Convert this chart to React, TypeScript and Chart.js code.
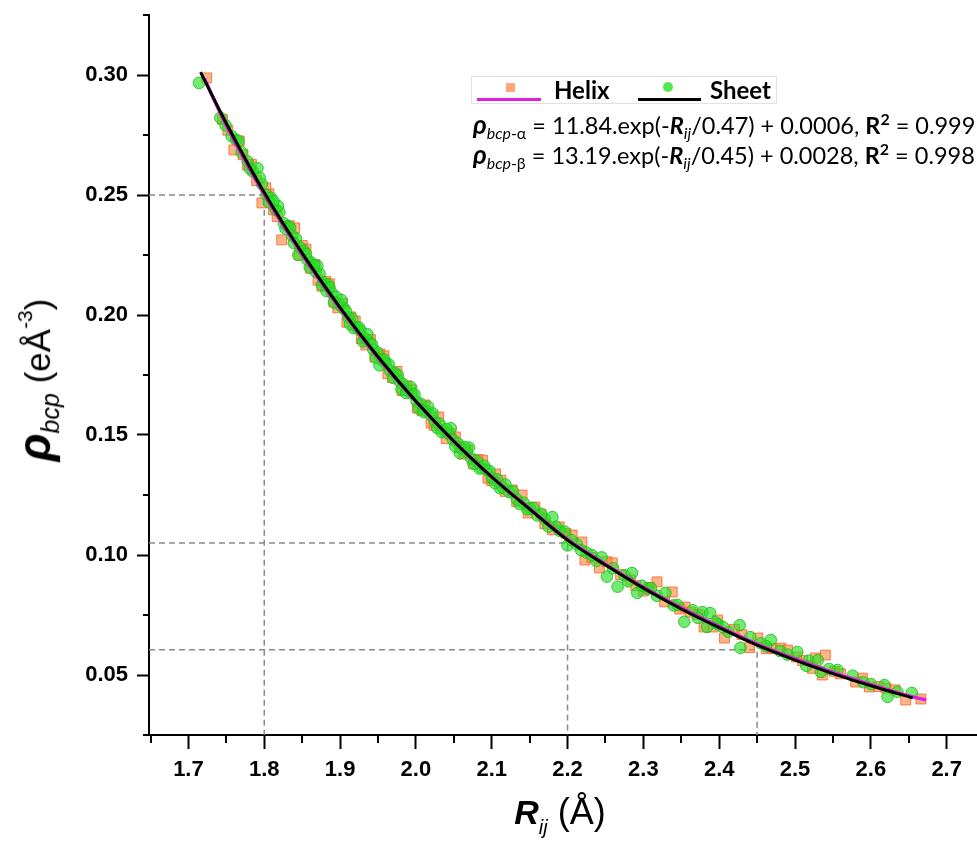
import React, { useEffect, useRef } from 'react';
import { Chart, registerables } from 'chart.js';

Chart.register(...registerables);

// ---- axis ticks ----
const xMajor = [1.7, 1.8, 1.9, 2.0, 2.1, 2.2, 2.3, 2.4, 2.5, 2.6, 2.7];
const xMinor = [1.65, 1.75, 1.85, 1.95, 2.05, 2.15, 2.25, 2.35, 2.45, 2.55, 2.65];
const yMajor = [0.05, 0.1, 0.15, 0.2, 0.25, 0.3];
const yMinor = [0.025, 0.075, 0.125, 0.175, 0.225, 0.275, 0.325];
const xMin = 1.648;
const xMax = 2.74;
const yMin = 0.025;
const yMax = 0.325;

// ---- fitted curves ----
const sheetFitR = [1.716, 1.75, 1.8, 1.85, 1.9, 1.95, 2.0, 2.05, 2.1, 2.15, 2.2, 2.25, 2.3, 2.35, 2.4, 2.45, 2.5, 2.55, 2.6, 2.655];
const sheetFitRho = [0.3012, 0.2799, 0.251, 0.2258, 0.2031, 0.1826, 0.1641, 0.1474, 0.1325, 0.1191, 0.1062, 0.0958, 0.0862, 0.0775, 0.0697, 0.0624, 0.0562, 0.0506, 0.0455, 0.0405];
const helixFitR = [1.721, 1.75, 1.8, 1.85, 1.9, 1.95, 2.0, 2.05, 2.1, 2.15, 2.2, 2.25, 2.3, 2.35, 2.4, 2.45, 2.5, 2.55, 2.6, 2.65, 2.673];
const helixFitRho = [0.2985, 0.279, 0.2503, 0.2252, 0.2027, 0.1823, 0.164, 0.1474, 0.1326, 0.1193, 0.1065, 0.0962, 0.0866, 0.078, 0.0702, 0.0629, 0.0567, 0.0511, 0.046, 0.0413, 0.0396];

// ---- Sheet points (green circles) ----
const sheetR = [
  1.714, 1.742, 1.749, 1.757, 1.763, 1.77, 1.778, 1.785, 1.791, 1.797, 1.803, 1.809, 1.815, 1.82, 1.826, 1.831, 1.837, 1.842, 1.847, 1.852,
  1.857, 1.862, 1.868, 1.873, 1.878, 1.884, 1.889, 1.895, 1.9, 1.905, 1.911, 1.916, 1.922, 1.927, 1.933, 1.938, 1.944, 1.949, 1.955, 1.96,
  1.966, 1.972, 1.978, 1.983, 1.989, 1.995, 2.001, 2.007, 2.013, 2.019, 2.025, 2.031, 2.037, 2.043, 2.049, 2.055, 2.061, 2.067, 2.073, 2.08,
  2.086, 2.093, 2.1, 2.107, 2.114, 2.123, 2.133, 2.142, 2.15, 2.16, 2.17, 2.18, 2.19, 2.2, 2.212, 2.225, 2.238, 2.252, 2.266, 2.275,
  2.285, 2.292, 2.305, 2.318, 2.329, 2.34, 2.354, 2.365, 2.378, 2.384, 2.388, 2.398, 2.412, 2.427, 2.428, 2.441, 2.455, 2.468, 2.48, 2.503,
  2.518, 2.53, 2.534, 2.556, 2.576, 2.6, 2.618, 2.622, 2.654,
  1.818, 1.845, 1.87, 1.882, 1.902, 1.918, 1.936, 1.952, 1.964, 1.981, 1.993, 2.004, 2.016, 2.028, 2.046, 2.058, 2.07, 2.084, 2.097, 2.111,
  2.128, 2.147, 2.165, 2.185, 2.205, 2.232, 2.26, 2.298, 2.345, 2.372, 2.405, 2.462, 2.49, 2.545, 2.59, 2.635,
  1.766, 1.781, 1.794, 1.806, 1.812, 1.828, 1.834, 1.839, 1.855, 1.86, 1.866, 1.876, 1.886, 1.892, 1.908, 1.913, 1.925, 1.93, 1.942, 1.947,
  1.958, 1.97, 1.976, 1.987, 1.998, 2.01, 2.022, 2.034, 2.04, 2.052, 2.064, 2.076, 2.09, 2.104, 2.118, 2.137, 2.155, 2.175, 2.196, 2.218,
  2.245, 2.28, 2.31, 2.395, 2.515,
];
const sheetRho = [
  0.2967, 0.2822, 0.279, 0.2745, 0.273, 0.2678, 0.264, 0.2598, 0.2612, 0.2545, 0.25, 0.2488, 0.244, 0.2428, 0.2382, 0.237, 0.233, 0.2318, 0.2282, 0.2268,
  0.223, 0.2218, 0.218, 0.2172, 0.2135, 0.2128, 0.2092, 0.2075, 0.204, 0.2028, 0.199, 0.1985, 0.1948, 0.1935, 0.1902, 0.189, 0.1855, 0.1845, 0.1812, 0.18,
  0.1768, 0.176, 0.1725, 0.1712, 0.1684, 0.1672, 0.164, 0.1628, 0.16, 0.1585, 0.1556, 0.1548, 0.1518, 0.1505, 0.148, 0.1466, 0.144, 0.143, 0.1402, 0.1392,
  0.1365, 0.1355, 0.1322, 0.1315, 0.1283, 0.1262, 0.1232, 0.1218, 0.1195, 0.1165, 0.115, 0.1158, 0.11, 0.104, 0.1045, 0.101, 0.0975, 0.091, 0.0868, 0.0915,
  0.0925, 0.0842, 0.086, 0.083, 0.0842, 0.079, 0.0722, 0.077, 0.0762, 0.07, 0.0758, 0.0712, 0.068, 0.0708, 0.0613, 0.0658, 0.0632, 0.0646, 0.06, 0.0596,
  0.056, 0.0562, 0.0513, 0.0521, 0.0497, 0.0462, 0.0458, 0.0409, 0.0425,
  0.2455, 0.225, 0.2205, 0.21, 0.2062, 0.1945, 0.192, 0.179, 0.1795, 0.169, 0.17, 0.161, 0.1618, 0.153, 0.1528, 0.1425, 0.1448, 0.136, 0.135, 0.1278,
  0.1265, 0.119, 0.1172, 0.1118, 0.1062, 0.1, 0.0945, 0.0872, 0.0792, 0.0738, 0.07, 0.062, 0.0585, 0.0525, 0.047, 0.043,
  0.2725, 0.261, 0.2572, 0.247, 0.2475, 0.236, 0.2365, 0.23, 0.2255, 0.2198, 0.2208, 0.2125, 0.2115, 0.2052, 0.2015, 0.1962, 0.1948, 0.189, 0.1878, 0.1822,
  0.1815, 0.1738, 0.175, 0.1675, 0.167, 0.1596, 0.159, 0.1512, 0.1525, 0.1452, 0.145, 0.138, 0.1372, 0.13, 0.1294, 0.1212, 0.1195, 0.1118, 0.1098, 0.102,
  0.099, 0.089, 0.0862, 0.072, 0.0538,
];

// ---- Helix points (orange squares) ----
const helixR = [
  1.724, 1.745, 1.76, 1.772, 1.783, 1.79, 1.797, 1.806, 1.812, 1.823, 1.833, 1.84, 1.846, 1.855, 1.861, 1.867, 1.876, 1.886, 1.892, 1.903,
  1.909, 1.92, 1.928, 1.94, 1.946, 1.958, 1.963, 1.975, 1.982, 1.994, 2.002, 2.012, 2.02, 2.03, 2.04, 2.052, 2.058, 2.068, 2.076, 2.088,
  2.095, 2.105, 2.118, 2.127, 2.14, 2.148, 2.157, 2.17, 2.189, 2.206, 2.219, 2.223, 2.242, 2.259, 2.27, 2.283, 2.3, 2.318, 2.338, 2.348,
  2.355, 2.362, 2.38, 2.398, 2.407, 2.42, 2.44, 2.451, 2.47, 2.481, 2.49, 2.51, 2.527, 2.54, 2.536, 2.56, 2.58, 2.589, 2.61, 2.632,
  2.646, 2.666,
  1.752, 1.767, 1.778, 1.802, 1.817, 1.85, 1.871, 1.881, 1.897, 1.914, 1.934, 1.952, 1.969, 1.988, 2.008, 2.024, 2.046, 2.063, 2.082, 2.1,
  2.112, 2.133, 2.165, 2.18, 2.198, 2.232, 2.252, 2.29, 2.308, 2.328, 2.372, 2.392, 2.43, 2.462, 2.502, 2.523, 2.552, 2.598, 2.62,
];
const helixRho = [
  0.2988, 0.2815, 0.2688, 0.2668, 0.2628, 0.256, 0.2467, 0.2505, 0.2438, 0.2313, 0.2372, 0.2363, 0.225, 0.2275, 0.2195, 0.221, 0.212, 0.213, 0.2055, 0.2048,
  0.197, 0.1975, 0.1902, 0.1898, 0.1825, 0.183, 0.1755, 0.1765, 0.1685, 0.1688, 0.1612, 0.1625, 0.155, 0.1575, 0.1485, 0.1492, 0.1448, 0.1438, 0.138, 0.1395,
  0.132, 0.1338, 0.1265, 0.1271, 0.125, 0.1175, 0.12, 0.113, 0.1117, 0.1083, 0.1054, 0.0979, 0.0946, 0.0967, 0.0918, 0.0896, 0.085, 0.0888, 0.0846, 0.0775,
  0.0783, 0.0762, 0.07, 0.0729, 0.0654, 0.069, 0.0614, 0.0654, 0.061, 0.0612, 0.0604, 0.056, 0.0571, 0.0583, 0.05, 0.0505, 0.0471, 0.0487, 0.0452, 0.0438,
  0.0396, 0.04,
  0.277, 0.2725, 0.2625, 0.253, 0.241, 0.229, 0.2145, 0.214, 0.203, 0.1992, 0.1875, 0.1838, 0.174, 0.1705, 0.1602, 0.154, 0.1505, 0.142, 0.1398, 0.131,
  0.1312, 0.1222, 0.117, 0.1105, 0.109, 0.099, 0.0972, 0.0872, 0.0865, 0.0805, 0.0752, 0.07, 0.0668, 0.061, 0.0575, 0.0528, 0.0515, 0.045, 0.0445,
];

// ---- dashed guide lines ----
const guideR = [1.8, 2.2, 2.45];
const guideRho = [0.25, 0.105, 0.0605];

const toXY = (xs: number[], ys: number[]) => xs.map((x, i) => ({ x, y: ys[i] }));

const minorTicks = {
  id: 'minorTicks',
  afterDraw(chart: any) {
    const { ctx, chartArea, scales } = chart;
    const x = scales.x;
    const y = scales.y;
    ctx.save();
    ctx.strokeStyle = '#000';
    ctx.lineWidth = 2;
    xMinor.forEach((v) => {
      const px = Math.round(x.getPixelForValue(v));
      ctx.beginPath();
      ctx.moveTo(px, chartArea.bottom);
      ctx.lineTo(px, chartArea.bottom + 8);
      ctx.stroke();
    });
    yMinor.forEach((v) => {
      const py = Math.round(y.getPixelForValue(v));
      ctx.beginPath();
      ctx.moveTo(chartArea.left, py);
      ctx.lineTo(chartArea.left - 6, py);
      ctx.stroke();
    });
    ctx.restore();
  },
};

const tickFont = { family: "'Liberation Sans', Arial, sans-serif", size: 22, weight: 'bold' as const };

export default function App() {
  const ref = useRef<HTMLCanvasElement>(null);

  useEffect(() => {
    if (!ref.current) return;
    const guides = guideR.map((r, i) => ({
      label: 'guide' + i,
      data: [
        { x: xMin, y: guideRho[i] },
        { x: r, y: guideRho[i] },
        { x: r, y: yMin },
      ],
      showLine: true,
      borderColor: '#8a8a8a',
      borderWidth: 1.5,
      borderDash: [6, 4],
      pointRadius: 0,
      fill: false,
    }));
    const chart = new Chart(ref.current, {
      type: 'scatter',
      data: {
        datasets: [
          {
            label: 'Sheet fit',
            data: toXY(sheetFitR, sheetFitRho),
            showLine: true,
            borderColor: '#000',
            borderWidth: 3,
            pointRadius: 0,
            cubicInterpolationMode: 'monotone',
          },
          {
            label: 'Helix fit',
            data: toXY(helixFitR, helixFitRho),
            showLine: true,
            borderColor: '#e01ee0',
            borderWidth: 3.5,
            pointRadius: 0,
            cubicInterpolationMode: 'monotone',
          },
          {
            label: 'Sheet',
            data: toXY(sheetR, sheetRho),
            pointStyle: 'circle',
            pointRadius: 5.8,
            backgroundColor: 'rgba(40,225,40,0.65)',
            borderColor: 'rgba(30,190,30,0.85)',
            borderWidth: 1,
          },
          {
            label: 'Helix',
            data: toXY(helixR, helixRho),
            pointStyle: 'rect',
            pointRadius: 7,
            backgroundColor: 'rgba(255,130,60,0.6)',
            borderColor: 'rgba(245,100,30,0.8)',
            borderWidth: 1,
          },
          ...guides,
        ] as any,
      },
      options: {
        responsive: false,
        animation: false,
        devicePixelRatio: 1,
        layout: { autoPadding: false, padding: { top: 15, right: 0, left: 0, bottom: 0 } },
        plugins: { legend: { display: false }, tooltip: { enabled: false } },
        scales: {
          x: {
            type: 'linear',
            min: xMin,
            max: xMax,
            afterBuildTicks: (s: any) => {
              s.ticks = xMajor.map((v) => ({ value: v }));
            },
            afterFit: (s: any) => {
              s.height = 119;
              s.paddingLeft = 0;
              s.paddingRight = 0;
            },
            ticks: {
              font: tickFont,
              color: '#000',
              padding: 8,
              maxRotation: 0,
              autoSkip: false,
              callback: (v: any) => Number(v).toFixed(1),
            },
            grid: { display: true, drawOnChartArea: false, drawTicks: true, tickLength: 14, tickWidth: 2, tickColor: '#000' },
            border: { display: true, color: '#000', width: 2 },
          },
          y: {
            type: 'linear',
            min: yMin,
            max: yMax,
            afterBuildTicks: (s: any) => {
              s.ticks = yMajor.map((v) => ({ value: v }));
            },
            afterFit: (s: any) => {
              s.width = 149;
              s.paddingTop = 0;
              s.paddingBottom = 0;
            },
            ticks: {
              font: tickFont,
              color: '#000',
              padding: 9,
              autoSkip: false,
              callback: (v: any) => Number(v).toFixed(2),
            },
            grid: { display: true, drawOnChartArea: false, drawTicks: true, tickLength: 12, tickWidth: 2, tickColor: '#000' },
            border: { display: true, color: '#000', width: 2 },
          },
        },
      },
      plugins: [minorTicks],
    });
    return () => chart.destroy();
  }, []);

  const arial = "'Liberation Sans', Arial, sans-serif";
  const eqFont = "Lato, 'Open Sans', sans-serif";
  const sub: React.CSSProperties = { fontSize: '0.68em', verticalAlign: '-0.3em', lineHeight: 0 };
  const sup: React.CSSProperties = { fontSize: '0.68em', verticalAlign: '0.55em', lineHeight: 0 };

  return (
    <div style={{ position: 'fixed', left: 0, top: 0, width: 977, height: 854, background: '#fff', overflow: 'hidden' }}>
      <canvas ref={ref} width={977} height={854} style={{ position: 'absolute', left: 0, top: 0, width: 977, height: 854 }} />

      {/* Y axis title */}
      <div
        style={{
          position: 'absolute',
          left: 37,
          top: 380,
          transform: 'translate(-50%, -50%) rotate(-90deg)',
          whiteSpace: 'nowrap',
          fontFamily: arial,
          color: '#000',
          lineHeight: 1,
        }}
      >
        <span style={{ fontSize: 46, fontWeight: 'bold', fontStyle: 'italic' }}>ρ</span>
        <span style={{ fontSize: 25, fontStyle: 'italic', verticalAlign: '-0.35em' }}>bcp</span>
        <span style={{ fontSize: 35 }}>
          {' '}(eÅ<span style={{ fontSize: 21, verticalAlign: '0.85em' }}>-3</span>)
        </span>
      </div>

      {/* X axis title */}
      <div
        style={{
          position: 'absolute',
          left: 560,
          top: 815,
          transform: 'translate(-50%, -50%)',
          whiteSpace: 'nowrap',
          fontFamily: arial,
          color: '#000',
          lineHeight: 1,
        }}
      >
        <span style={{ fontSize: 34, fontWeight: 'bold', fontStyle: 'italic' }}>R</span>
        <span style={{ fontSize: 20, fontStyle: 'italic', verticalAlign: '-0.5em' }}>ij</span>
        <span style={{ fontSize: 36 }}> (Å)</span>
      </div>

      {/* Legend */}
      <div
        style={{
          position: 'absolute',
          left: 471,
          top: 76,
          width: 306,
          height: 28,
          border: '1px solid #e2e2e2',
          boxSizing: 'border-box',
          fontFamily: eqFont,
          fontWeight: 'bold',
          fontSize: 24,
          color: '#000',
        }}
      >
        <div style={{ position: 'absolute', left: 5, top: 21, width: 64, height: 3, background: '#e01ee0' }} />
        <div style={{ position: 'absolute', left: 34, top: 6, width: 9, height: 9, background: 'rgba(255,130,60,0.7)' }} />
        <div style={{ position: 'absolute', left: 82, top: -2, lineHeight: '29px' }}>Helix</div>
        <div style={{ position: 'absolute', left: 166, top: 21, width: 63, height: 3, background: '#000' }} />
        <div style={{ position: 'absolute', left: 191, top: 5, width: 10, height: 10, borderRadius: '50%', background: 'rgba(40,225,40,0.8)' }} />
        <div style={{ position: 'absolute', left: 238, top: -2, lineHeight: '29px' }}>Sheet</div>
      </div>

      {/* Equations */}
      <div
        style={{
          position: 'absolute',
          left: 473,
          top: 110,
          whiteSpace: 'nowrap',
          fontFamily: eqFont,
          fontSize: 23.5,
          lineHeight: '29px',
          color: '#000',
        }}
      >
        <div>
          <b style={{ fontStyle: 'italic', fontSize: 26 }}>ρ</b>
          <span style={sub}>
            <i>bcp</i>-α
          </span>{' '}
          = 11.84.exp(-<b style={{ fontStyle: 'italic' }}>R</b>
          <span style={sub}>
            <i>ij</i>
          </span>
          /0.47) + 0.0006, <b>R</b>
          <b style={sup}>2</b> = 0.999
        </div>
        <div>
          <b style={{ fontStyle: 'italic', fontSize: 26 }}>ρ</b>
          <span style={sub}>
            <i>bcp</i>-β
          </span>{' '}
          = 13.19.exp(-<b style={{ fontStyle: 'italic' }}>R</b>
          <span style={sub}>
            <i>ij</i>
          </span>
          /0.45) + 0.0028, <b>R</b>
          <b style={sup}>2</b> = 0.998
        </div>
      </div>
    </div>
  );
}
